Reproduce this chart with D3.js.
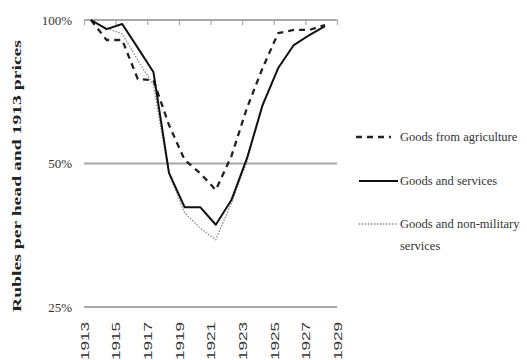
<!DOCTYPE html>
<html>
<head>
<meta charset="utf-8">
<script src="https://cdn.jsdelivr.net/npm/d3@7"></script>
<style>
  body { margin: 0; background: #fff; }
</style>
</head>
<body>
<div class="container_main"></div>
<script>
// values (per cent of 1913, log axis)
const years = [1913, 1914, 1915, 1916, 1917, 1918, 1919, 1920, 1921, 1922, 1923, 1924, 1925, 1926, 1927, 1928];
const agriculture = [100, 90.8, 90.8, 75.2, 74.8, 60.2, 50.9, 47.7, 44.0, 51.8, 65.4, 79.3, 93.9, 95.3, 95.3, 97.6];
const goodsServices = [100, 95.7, 98.1, 87.4, 77.8, 47.8, 40.5, 40.5, 37.2, 41.9, 51.3, 66.3, 79.3, 88.6, 93.0, 97.1];
const nonMilitary = [100, 96.2, 93.5, 82.4, 73.1, 47.5, 39.4, 36.6, 34.6, 41.3, 50.5, 66.3, 79.3, 88.6, 93.0, 97.1];
const yearTicks = [1913, 1915, 1917, 1919, 1921, 1923, 1925, 1927, 1929];
const pctTicks = [100, 50, 25];
const seriesNames = ["Goods from agriculture", "Goods and services", "Goods and non-military services"];

const plotChart = function() {
    const svgwidth = 527;
    const svgheight = 360;
    const svg = d3.select('.container_main')
      .append("svg")
      .attr("width", svgwidth)
      .attr("height", svgheight)
      .style("font-family", "'Liberation Serif', 'Times New Roman', serif");

    // scales
    const axisX = d3.scaleLinear().domain([1913, 1929]).range([84, 337]);
    const posX = d3.scalePoint().domain(years).range([91, 325]);
    const posY = d3.scaleLog().domain([25, 100]).range([307, 20]);

    // gridlines
    svg.selectAll(".grid")
      .data(pctTicks)
      .enter()
        .append("line")
        .attr("class", "grid")
        .attr("x1", axisX.range()[0])
        .attr("x2", axisX.range()[1])
        .attr("y1", d => posY(d))
        .attr("y2", d => posY(d))
        .attr("stroke", "#a8a8a8")
        .attr("stroke-width", 2);

    // the category axis sits on the 100% line, ticks point down
    const topAxis = svg.append("g")
        .attr("transform", "translate(0," + posY(100) + ")")
        .call(d3.axisBottom(axisX).tickValues(yearTicks).tickSize(5).tickFormat(""));
    topAxis.select(".domain").remove();
    topAxis.selectAll(".tick line").attr("stroke", "#a8a8a8").attr("stroke-width", 1.2);

    // year labels at the bottom, rotated
    svg.selectAll(".yearlabel")
      .data(yearTicks)
      .enter()
        .append("text")
        .attr("class", "yearlabel")
        .attr("transform", d => "translate(" + (axisX(d) + 1) + ",322) rotate(-90)")
        .attr("text-anchor", "end")
        .attr("dy", "0.35em")
        .attr("font-family", "'Liberation Sans', Arial, sans-serif")
        .attr("font-size", "11px")
        .attr("textLength", 38)
        .attr("lengthAdjust", "spacingAndGlyphs")
        .attr("fill", "#333")
        .text(d => d);

    // percent labels
    svg.selectAll(".pctlabel")
      .data(pctTicks)
      .enter()
        .append("text")
        .attr("class", "pctlabel")
        .attr("x", 72)
        .attr("y", d => posY(d))
        .attr("dy", "0.35em")
        .attr("text-anchor", "end")
        .attr("font-size", "13px")
        .attr("fill", "#333")
        .text(d => d + "%");

    // y title
    svg.append("text")
        .attr("transform", "translate(21,176) rotate(-90)")
        .attr("text-anchor", "middle")
        .attr("font-size", "12px")
        .attr("font-weight", "bold")
        .attr("textLength", 272)
        .attr("lengthAdjust", "spacingAndGlyphs")
        .attr("fill", "#222")
        .text("Rubles per head and 1913 prices");

    // lines
    const styles = [
        {values: agriculture, stroke: "#222", width: 2.3, dash: "6,5"},
        {values: goodsServices, stroke: "#111", width: 2, dash: null},
        {values: nonMilitary, stroke: "#8a8a8a", width: 1.3, dash: "1.5,1.5"}
    ];
    const line = d3.line()
        .x(d => posX(d.year))
        .y(d => posY(d.value));

    // dotted first so the solid one stays on top
    [2, 0, 1].forEach(function(i) {
        const s = styles[i];
        svg.append("path")
            .datum(years.map((y, j) => ({year: y, value: s.values[j]})))
            .attr("fill", "none")
            .attr("stroke", s.stroke)
            .attr("stroke-width", s.width)
            .attr("stroke-dasharray", s.dash)
            .attr("stroke-linejoin", "round")
            .attr("d", line);
    });

    // legend
    const legendY = [137, 181, 224];
    const legend = svg.selectAll(".legend")
      .data(seriesNames)
      .enter()
        .append("g")
        .attr("class", "legend")
        .attr("transform", (d, i) => "translate(0," + legendY[i] + ")");
    legend.append("line")
        .attr("x1", (d, i) => i == 0 ? 356 : 359)
        .attr("x2", (d, i) => i == 0 ? 391 : 398)
        .attr("stroke", (d, i) => styles[i].stroke)
        .attr("stroke-width", (d, i) => styles[i].width)
        .attr("stroke-dasharray", (d, i) => styles[i].dash);
    legend.each(function(d, i) {
        const words = i == 2 ? ["Goods and non-military", "services"] : [d];
        const t = d3.select(this).append("text")
            .attr("x", 400)
            .attr("y", 4)
            .attr("font-size", "12.5px")
            .attr("fill", "#333");
        words.forEach(function(w, k) {
            t.append("tspan").attr("x", 400).attr("dy", k == 0 ? 0 : 22).text(w);
        });
    });
}

plotChart();
</script>
</body>
</html>
